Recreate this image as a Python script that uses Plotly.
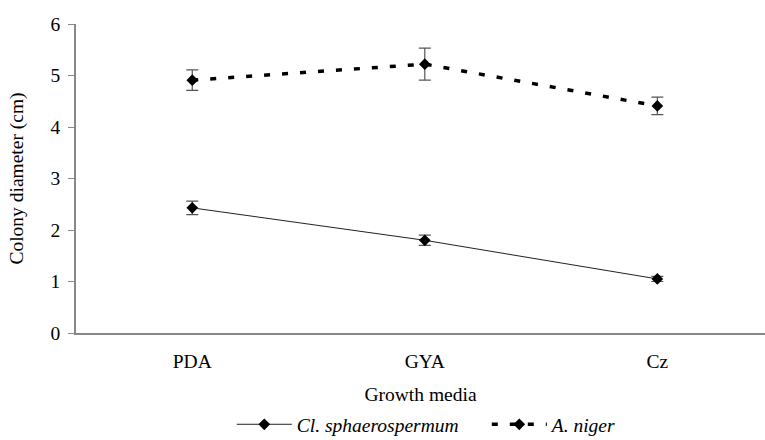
import plotly.graph_objects as go

media = ["PDA", "GYA", "Cz"]
cl_vals = [2.43, 1.80, 1.05]
cl_err = [0.13, 0.10, 0.05]
an_vals = [4.91, 5.22, 4.41]
an_err = [0.20, 0.31, 0.17]
y_ticks = [0, 1, 2, 3, 4, 5, 6]

font = "Liberation Serif, Times New Roman, serif"
fs = 19.5

fig = go.Figure()
fig.add_trace(go.Scatter(
    x=media, y=cl_vals, name="<i>Cl. sphaerospermum</i>",
    mode="lines+markers",
    line=dict(color="#222", width=1),
    marker=dict(symbol="diamond", size=9, color="black"),
    error_y=dict(type="data", array=cl_err, visible=True, color="#555", thickness=1.2, width=6),
))
fig.add_trace(go.Scatter(
    x=media, y=an_vals, name="<i>A. niger</i>",
    mode="lines+markers",
    line=dict(color="black", width=3.5, dash="6px,12px"),
    marker=dict(symbol="diamond", size=9, color="black"),
    error_y=dict(type="data", array=an_err, visible=True, color="#555", thickness=1.2, width=6),
))

fig.update_layout(
    width=765, height=440,
    margin=dict(l=76, r=0, t=24, b=107, autoexpand=False),
    paper_bgcolor="white", plot_bgcolor="white",
    font=dict(family=font, size=fs, color="black"),
    showlegend=True,
    legend=dict(orientation="h", x=0.303, xanchor="left", xref="container",
                y=0.035, yanchor="middle", yref="container",
                itemwidth=55, entrywidth=185, font=dict(family=font, size=fs)),
)
fig.update_xaxes(
    range=[-0.5, 2.463], showline=True, linecolor="#888", linewidth=1.5,
    ticks="", showgrid=False, zeroline=False, automargin=False,
    ticklabelstandoff=10,
    title=dict(text="Growth media", font=dict(family=font, size=fs), standoff=18),
    tickfont=dict(family=font, size=fs),
)
fig.update_yaxes(
    range=[0, 6], tickvals=y_ticks, showline=True, linecolor="#888", linewidth=1.5,
    ticks="outside", ticklen=6, tickcolor="#888", showgrid=False, zeroline=False, automargin=False,
    ticklabelstandoff=4,
    title=dict(text="Colony diameter (cm)", font=dict(family=font, size=fs), standoff=22),
    tickfont=dict(family=font, size=fs),
)

fig.write_html("out.html", config={"displayModeBar": False},
               post_script="document.body.style.margin='0';document.body.style.padding='0';")
